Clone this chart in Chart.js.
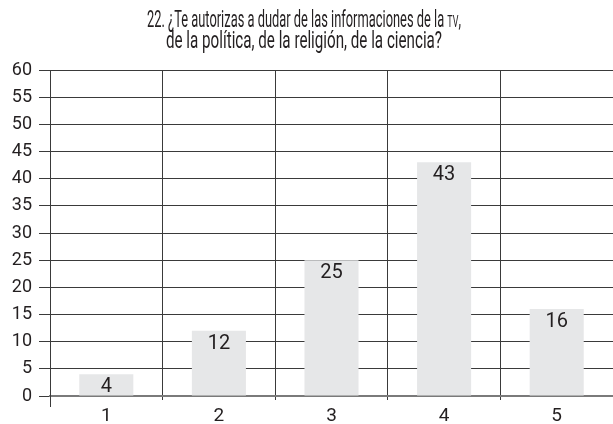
<!DOCTYPE html>
<html>
<head>
<meta charset="utf-8">
<script src="https://cdn.jsdelivr.net/npm/chart.js@4"></script>
<style>
  html, body { margin: 0; padding: 0; background: #fff; }
  #wrap { width: 613px; height: 424px; position: relative; }
</style>
</head>
<body>
<div id="wrap"><canvas id="chart"></canvas></div>
<script>
// data
var categories = ['1', '2', '3', '4', '5'];
var values = [4, 12, 25, 43, 16];
var titleLines = ['22. ¿Te autorizas a dudar de las informaciones de la TV,', 'de la política, de la religión, de la ciencia?'];
var smallCaps = 'TV'; // set in small capitals in the original

var FONT = "Roboto, 'Liberation Sans', sans-serif";
var TEXT = '#231f20';

// writes the value inside each bar, just under its top
var barValues = {
  id: 'barValues',
  afterDatasetsDraw: function(chart) {
    var ctx = chart.ctx;
    var meta = chart.getDatasetMeta(0);
    ctx.save();
    ctx.font = '20px ' + FONT;
    ctx.fillStyle = TEXT;
    ctx.textAlign = 'center';
    ctx.textBaseline = 'top';
    meta.data.forEach(function(bar, i) {
      ctx.fillText(String(values[i]), bar.x, bar.y + 3);
    });
    ctx.restore();
  }
};

// left axis runs a little below zero, like the tick marks
var axisTail = {
  id: 'axisTail',
  afterDraw: function(chart) {
    var ctx = chart.ctx;
    var a = chart.chartArea;
    ctx.save();
    ctx.strokeStyle = '#3a3a3a';
    ctx.lineWidth = 1;
    ctx.beginPath();
    ctx.moveTo(a.left + 0.5, a.bottom);
    ctx.lineTo(a.left + 0.5, a.bottom + 11);
    ctx.stroke();
    ctx.restore();
  }
};

// the original title is set in a condensed face, so squeeze each line horizontally
var condensedTitle = {
  id: 'condensedTitle',
  afterDraw: function(chart) {
    var ctx = chart.ctx;
    var big = '23px ' + FONT;
    var small = '16px ' + FONT;
    var baselines = [27, 48];
    var widths = [314, 276];
    ctx.save();
    ctx.fillStyle = TEXT;
    ctx.textBaseline = 'alphabetic';
    ctx.textAlign = 'left';
    titleLines.forEach(function(line, i) {
      // split the line into runs so the small-caps word gets the smaller size
      var runs = [];
      var k = line.lastIndexOf(smallCaps);
      if (k >= 0) {
        runs.push([line.slice(0, k), big]);
        runs.push([smallCaps, small]);
        runs.push([line.slice(k + smallCaps.length), big]);
      } else {
        runs.push([line, big]);
      }
      var w = 0;
      runs.forEach(function(r) { ctx.font = r[1]; w += ctx.measureText(r[0]).width; });
      ctx.save();
      ctx.translate(304, baselines[i]);
      ctx.scale(widths[i] / w, 1);
      var x = -w / 2;
      runs.forEach(function(r) {
        ctx.font = r[1];
        ctx.fillText(r[0], x, 0);
        x += ctx.measureText(r[0]).width;
      });
      ctx.restore();
    });
    ctx.restore();
  }
};

new Chart(document.getElementById('chart'), {
  type: 'bar',
  data: {
    labels: categories,
    datasets: [{
      data: values,
      backgroundColor: '#e6e7e8',
      borderWidth: 0,
      barPercentage: 0.48,
      categoryPercentage: 1
    }]
  },
  options: {
    responsive: true,
    maintainAspectRatio: false,
    animation: false,
    layout: { padding: { top: 70, left: 0, right: 0, bottom: 0 } },
    plugins: {
      legend: { display: false },
      tooltip: { enabled: false },
      title: { display: false }
    },
    scales: {
      x: {
        grid: { color: '#3a3a3a', lineWidth: 1, tickLength: 4, offset: true },
        border: { color: '#7a7a7a', width: 2 },
        ticks: { color: TEXT, font: { family: FONT, size: 19 }, padding: 5 },
        afterFit: function(s) { s.height = 28; }
      },
      y: {
        min: 0,
        max: 60,
        ticks: { stepSize: 5, color: TEXT, font: { family: FONT, size: 18 }, padding: 7 },
        grid: { color: '#3a3a3a', lineWidth: 1, tickLength: 11 },
        border: { color: '#3a3a3a', width: 1 },
        afterFit: function(s) { s.width = 50; }
      }
    }
  },
  plugins: [barValues, axisTail, condensedTitle]
});
</script>
</body>
</html>
